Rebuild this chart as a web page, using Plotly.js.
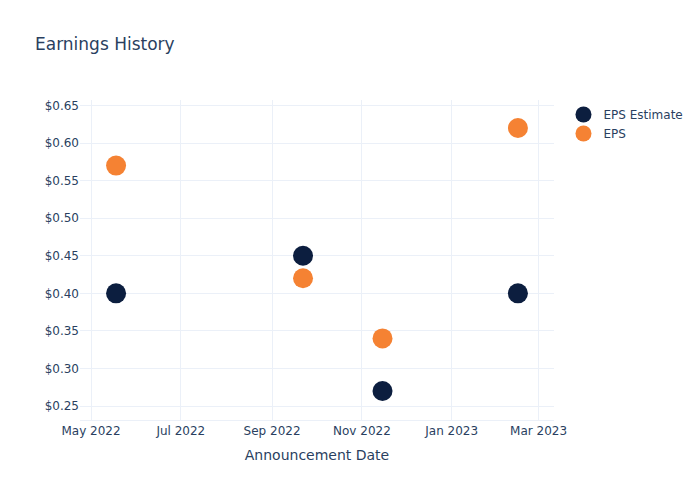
<!DOCTYPE html>
<html>
<head>
<meta charset="utf-8">
<script src="https://cdn.plot.ly/plotly-3.0.1.min.js"></script>
<style>html,body{margin:0;padding:0;}#chart{width:700px;height:500px;}</style>
</head>
<body>
<div id="chart"></div>
<script>
const dates = ["2022-05-18", "2022-09-22", "2022-11-15", "2023-02-15"];
const epsEstimate = [0.40, 0.45, 0.27, 0.40];
const epsActual = [0.57, 0.42, 0.34, 0.62];

const traces = [
  {x: dates, y: epsEstimate, name: "EPS Estimate", type: "scatter", mode: "markers",
   marker: {color: "#0c1e3f", size: 20}},
  {x: dates, y: epsActual, name: "EPS", type: "scatter", mode: "markers",
   marker: {color: "#f58233", size: 20}}
];

const layout = {
  width: 700, height: 500,
  template: "plotly_white",
  paper_bgcolor: "#ffffff", plot_bgcolor: "#ffffff",
  font: {family: "'DejaVu Sans', Verdana, sans-serif", color: "#2a3f5f", size: 12},
  title: {text: "Earnings History", x: 0.05, xanchor: "left", font: {size: 17, color: "#2a3f5f"}},
  xaxis: {title: {text: "Announcement Date", font: {size: 14}, standoff: 12}, type: "date",
          range: ["2022-04-23 12:00", "2023-03-11 12:00"],
          gridcolor: "#EBF0F8", zeroline: false, linecolor: "#EBF0F8", dtick: "M2", tickformat: "%b %Y"},
  yaxis: {tickprefix: "$", tickformat: ".2f", gridcolor: "#EBF0F8", zeroline: false, dtick: 0.05,
          range: [0.2314, 0.6573]},
  legend: {x: 1.02, y: 1, font: {size: 12}},
  margin: {l: 80, r: 80, t: 100, b: 80}
};

Plotly.newPlot("chart", traces, layout, {displayModeBar: false});
</script>
</body>
</html>
